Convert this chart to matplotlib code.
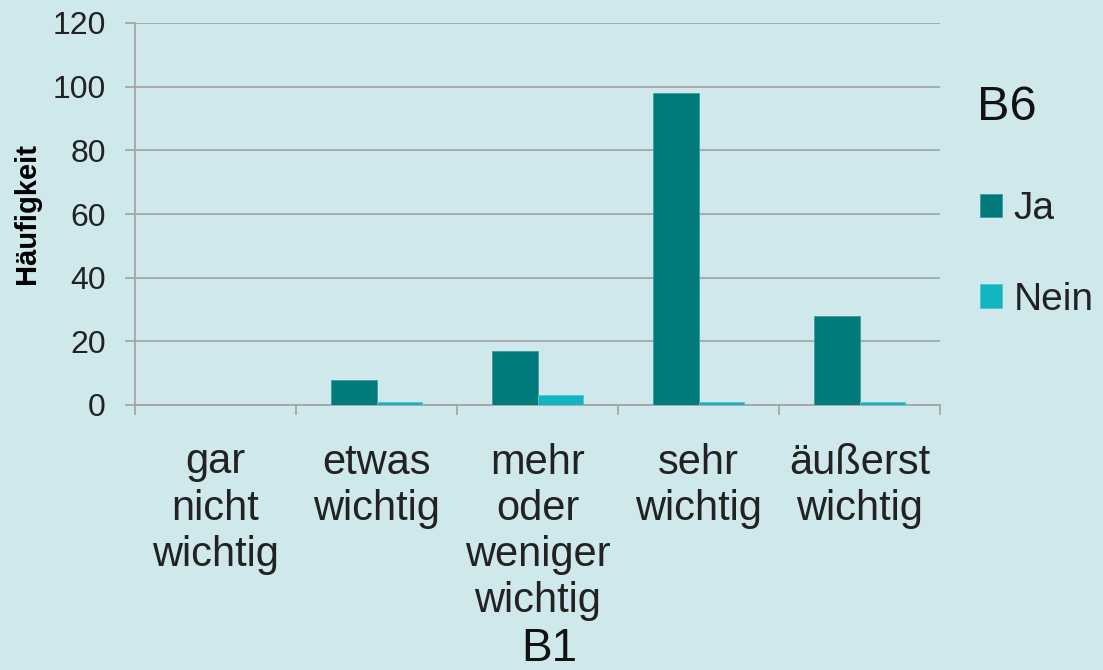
import matplotlib.pyplot as plt
import numpy as np

# Daten
categories = ["gar\nnicht\nwichtig", "etwas\nwichtig", "mehr\noder\nweniger\nwichtig",
              "sehr\nwichtig", "äußerst\nwichtig"]
ja = [0, 8, 17, 98, 28]
nein = [0, 1, 3, 1, 1]
yticks = [0, 20, 40, 60, 80, 100, 120]

bg = "#CFE8EB"
col_ja = "#007A7B"
col_nein = "#12B5BF"
grey = "#A6A6A6"

plt.rcParams['font.family'] = ['Liberation Sans', 'DejaVu Sans']

fig = plt.figure(figsize=(11.03, 6.70), dpi=100, facecolor=bg)
ax = fig.add_axes([135 / 1103, 1 - 405 / 670, 805 / 1103, 382 / 670])
ax.set_facecolor(bg)

x = np.arange(len(categories))
w = 0.28
ax.bar(x - w / 2, ja, w, color=col_ja, edgecolor="#3E9C9E", linewidth=0.6, label="Ja", zorder=3)
ax.bar(x + w / 2, nein, w, color=col_nein, edgecolor="#4FC6CD", linewidth=0.6, label="Nein", zorder=3)

ax.set_xlim(-0.5, len(categories) - 0.5)
ax.set_ylim(0, 120)
ax.set_yticks(yticks)
ax.yaxis.grid(True, color=grey, linewidth=1.3, zorder=0)
ax.tick_params(axis='y', labelsize=23, length=7, width=1.3, color=grey, pad=14, labelcolor="#222222")

# Kategoriegrenzen als Hauptticks, Beschriftungen als Nebenticks
ax.set_xticks(np.arange(-0.5, len(categories)), labels=[])
ax.set_xticks(x, labels=categories, minor=True)
ax.tick_params(axis='x', which='major', length=7, width=1.3, color=grey)
ax.tick_params(axis='x', which='minor', length=0, pad=27, labelsize=30, labelcolor="#222222")
for lbl in ax.get_xticklabels(minor=True):
    lbl.set_linespacing(1.2)

for side in ["top", "right"]:
    ax.spines[side].set_visible(False)
for side in ["left", "bottom"]:
    ax.spines[side].set_color(grey)
    ax.spines[side].set_linewidth(1.3)

ax.set_ylabel("Häufigkeit", fontsize=21, fontweight="bold", labelpad=8)

fig.text(549 / 1103, 1 - 627 / 670, "B1", fontsize=33, ha="center", va="top", color="#111111")
fig.text(1007 / 1103, 1 - 85 / 670, "B6", fontsize=35, ha="center", va="top", color="#111111")

fig.legend(loc="upper left", bbox_to_anchor=(961 / 1103, 1 - 172 / 670), frameon=False,
           fontsize=28, handlelength=0.55, handleheight=0.55, handletextpad=0.3,
           labelspacing=1.4, borderpad=0, labelcolor="#222222")

fig.savefig("out.png", dpi=100, facecolor=bg)
